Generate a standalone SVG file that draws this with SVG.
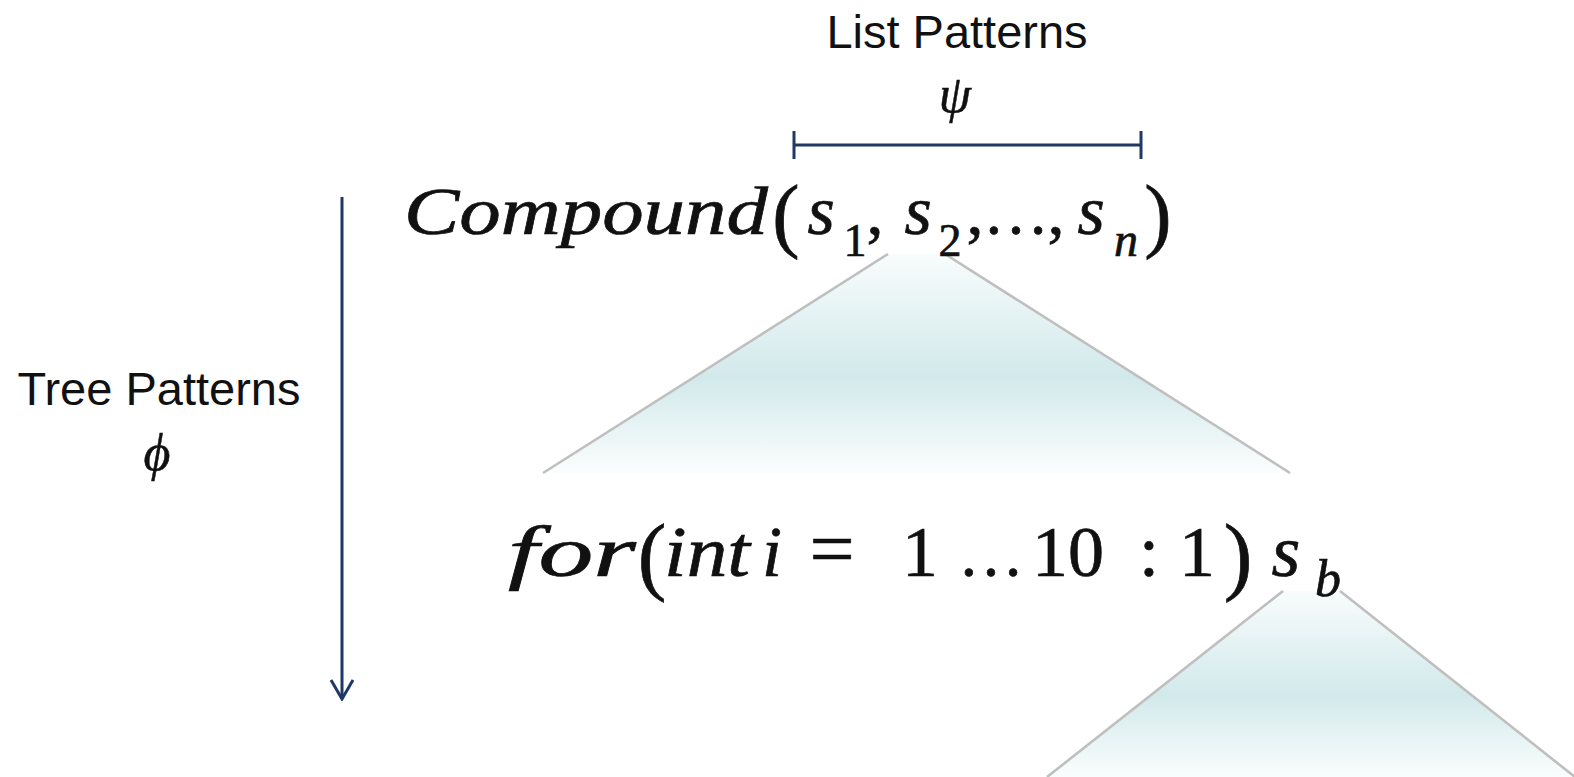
<svg xmlns="http://www.w3.org/2000/svg" width="1574" height="777" viewBox="0 0 1574 777">
<style>
.lbl{font-family:"Liberation Sans",Arial,sans-serif;font-size:47px;fill:#111;text-anchor:middle}
.gk{font-family:"Liberation Serif","DejaVu Serif",serif;font-style:italic;font-size:52px;fill:#111;stroke:#111;stroke-width:0.5;text-anchor:middle}
.mi{font-family:"Liberation Serif","DejaVu Serif",serif;font-style:italic;fill:#111;stroke:#111;stroke-width:0.7}
.mu{font-family:"Liberation Serif","DejaVu Serif",serif;fill:#111;stroke:#111;stroke-width:0.7}
.edge{stroke:#bfbfbf;stroke-width:2.6;fill:none}
.navy{stroke:#1f3864;stroke-width:3;fill:none}
</style>
<defs>
<linearGradient id="tg" x1="0" y1="0" x2="0" y2="1">
<stop offset="0" stop-color="#f8fcfc"/>
<stop offset="0.56" stop-color="#d2e9eb"/>
<stop offset="1" stop-color="#fbfdfd"/>
</linearGradient>
<marker id="ah" viewBox="0 0 22 24" refX="20" refY="12" markerWidth="22" markerHeight="24" markerUnits="userSpaceOnUse" orient="auto">
<path d="M1,1 L20,12 L1,23" fill="none" stroke="#1f3864" stroke-width="3"/>
</marker>
</defs>

<g id="subtree1">
<polygon points="888,254 945,254 1290,473 543,473" fill="url(#tg)"/>
<line class="edge" x1="888" y1="254" x2="543" y2="473"/>
<line class="edge" x1="945" y1="254" x2="1290" y2="473"/>
</g>
<g id="subtree2">
<polygon points="1283,591 1340,591 1575,777 1047,777" fill="url(#tg)"/>
<line class="edge" x1="1283" y1="591" x2="1047" y2="777"/>
<line class="edge" x1="1340" y1="591" x2="1575" y2="777"/>
</g>

<g id="connectors">
<path class="navy" d="M794,145 H1141 M794,131 V159 M1141,131 V159"/>
<line class="navy" x1="342" y1="197" x2="342" y2="699" marker-end="url(#ah)"/>
</g>

<g id="list-label">
<text class="lbl" x="957" y="48">List Patterns</text>
<text class="gk" x="955" y="112">ψ</text>
</g>
<g id="tree-label">
<text class="lbl" x="159" y="405" font-size="49">Tree Patterns</text>
<text class="gk" x="157" y="470" font-size="50">ϕ</text>
</g>

<g id="compound">
<text class="mi" x="404" y="234" font-size="68" textLength="364" lengthAdjust="spacingAndGlyphs">Compound</text>
<text class="mu" x="786" y="242" font-size="82" text-anchor="middle">(</text>
<text class="mi" x="821" y="234" font-size="70" text-anchor="middle">s</text>
<text class="mu" x="855" y="256" font-size="46" text-anchor="middle">1</text>
<text class="mu" x="875" y="234" font-size="68" text-anchor="middle">,</text>
<text class="mi" x="918" y="234" font-size="70" text-anchor="middle">s</text>
<text class="mu" x="950" y="256" font-size="46" text-anchor="middle">2</text>
<text class="mu" x="975" y="234" font-size="68" text-anchor="middle">,</text>
<text class="mu" x="1016" y="234" font-size="66" text-anchor="middle">…</text>
<text class="mu" x="1056" y="234" font-size="68" text-anchor="middle">,</text>
<text class="mi" x="1091" y="234" font-size="70" text-anchor="middle">s</text>
<text class="mi" x="1126" y="256" font-size="48" text-anchor="middle">n</text>
<text class="mu" x="1158" y="242" font-size="82" text-anchor="middle">)</text>
</g>

<g id="for-loop">
<text class="mi" x="508" y="576" font-size="72" textLength="128" lengthAdjust="spacingAndGlyphs">for</text>
<text class="mu" x="652" y="584" font-size="86" text-anchor="middle">(</text>
<text class="mi" x="664" y="576" font-size="72" textLength="86" lengthAdjust="spacingAndGlyphs">int</text>
<text class="mi" x="772" y="576" font-size="72" text-anchor="middle">i</text>
<text class="mu" x="832" y="576" font-size="80" text-anchor="middle">=</text>
<text class="mu" x="920" y="576" font-size="72" text-anchor="middle">1</text>
<text class="mu" x="991" y="576" font-size="66" text-anchor="middle">…</text>
<text class="mu" x="1068" y="576" font-size="72" text-anchor="middle">10</text>
<text class="mu" x="1149" y="576" font-size="72" text-anchor="middle">:</text>
<text class="mu" x="1197" y="576" font-size="72" text-anchor="middle">1</text>
<text class="mu" x="1238" y="584" font-size="86" text-anchor="middle">)</text>
<text class="mi" x="1286" y="576" font-size="74" text-anchor="middle">s</text>
<text class="mi" x="1328" y="596" font-size="52" text-anchor="middle">b</text>
</g>
</svg>
